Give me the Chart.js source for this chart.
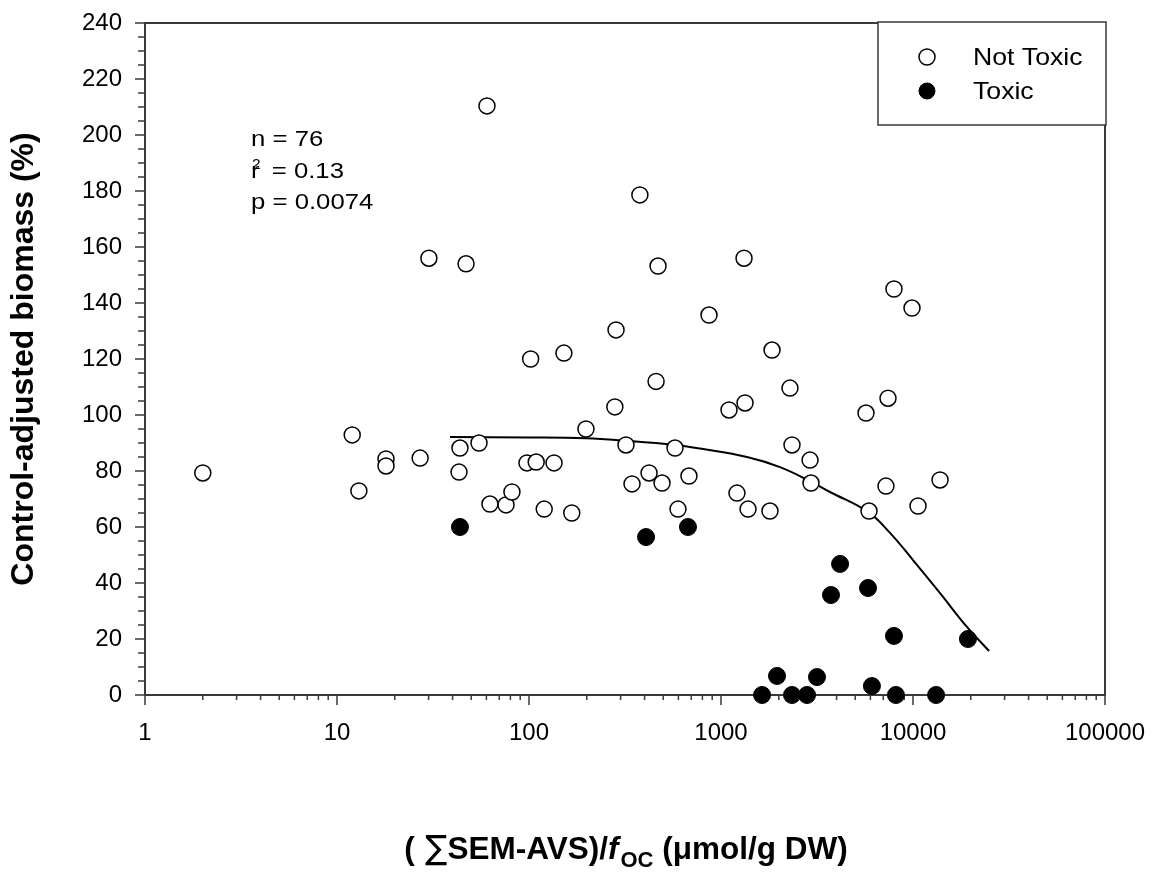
<!DOCTYPE html>
<html>
<head>
<meta charset="utf-8">
<script src="https://cdn.jsdelivr.net/npm/chart.js@4.4.1/dist/chart.umd.min.js"></script>
<style>
  html, body { margin: 0; padding: 0; background: #fff; }
  #wrap { width: 1152px; height: 882px; position: relative; }
</style>
</head>
<body>
<div id="wrap"><canvas id="chart"></canvas></div>
<script>
// values (x = SEM-AVS / foc, y = biomass %)
const notToxicX = [2.0, 12.0, 13.0, 18.0, 18.0, 27.1, 30.1, 43.2, 43.7, 47, 54.9, 60.4, 62.6, 75.9, 81.5,
  97.6, 102, 109, 120, 135, 152, 167, 198, 280, 284, 320, 344, 378, 422, 459, 470, 493, 576, 597, 681,
  866, 1101, 1211, 1318, 1334, 1383, 1799, 1844, 2287, 2343, 2909, 2943, 5690, 5900, 7230, 7410, 7960,
  9880, 10620, 13830];
const notToxicY = [79.3, 92.9, 72.9, 84.3, 81.8, 84.6, 156, 79.6, 88.2, 154, 90, 210.4, 68.2, 67.9, 72.5,
  82.9, 120, 83.2, 66.4, 82.9, 122.1, 65, 95, 102.9, 130.4, 89.3, 75.4, 178.6, 79.3, 112, 153.2, 75.7, 88.2, 66.4, 78.2,
  135.7, 101.8, 72.1, 156, 104.3, 66.4, 65.7, 123.2, 109.6, 89.3, 83.9, 75.7, 100.7, 65.7, 74.6, 106, 145,
  138.2, 67.5, 76.8];

const toxicX = [43.7, 407, 673, 1636, 1958, 2343, 2806, 3162, 3740, 4170, 5830, 6110, 7960, 8150, 13190, 19330];
const toxicY = [60, 56.4, 60, 0, 6.8, 0, 0, 6.4, 35.7, 46.8, 38.2, 3.2, 21.1, 0, 0, 20];

const fitX = [38.8, 100, 198, 320, 576, 779, 1366, 2028, 2943, 3697, 5830, 7590, 10000, 13830, 19100, 24900];
const fitY = [92.1, 92.0, 91.7, 90.8, 89.3, 88.0, 85.0, 81.4, 76.2, 72.5, 65.4, 57.9, 48.2, 36.4, 24.3, 15.7];

const xTickValues = [1, 10, 100, 1000, 10000, 100000];
const statLines = ["n = 76", "r", "p = 0.0074"];

const FONT = '"Liberation Sans", Arial, Helvetica, sans-serif';
const AXIS_COLOR = '#3a3a3a';

function toPoints(xs, ys) {
  return xs.map((x, i) => ({ x: x, y: ys[i] }));
}

function noPad(scale) {
  scale.paddingLeft = 0;
  scale.paddingRight = 0;
  scale.paddingTop = 0;
  scale.paddingBottom = 0;
}

// text a bit wider than Arial, like the figure's font
function wideText(ctx, str, x, y, font, sx) {
  ctx.save();
  ctx.font = font;
  ctx.translate(x, y);
  ctx.scale(sx, 1);
  ctx.fillText(str, 0, 0);
  const w = ctx.measureText(str).width * sx;
  ctx.restore();
  return w;
}

const framePlugin = {
  id: 'frame',
  beforeDatasetsDraw(chart) {
    const ctx = chart.ctx;
    const a = chart.chartArea;
    const xs = chart.scales.x, ys = chart.scales.y;
    ctx.save();
    ctx.strokeStyle = AXIS_COLOR;
    ctx.lineWidth = 1.5;
    ctx.beginPath();
    for (let k = 0; k <= 5; k++) {
      for (let m = 1; m < 10; m++) {
        if (k === 5 && m > 1) break;
        const px = xs.getPixelForValue(m * Math.pow(10, k));
        const len = m === 1 ? 10 : 5;
        ctx.moveTo(px, a.bottom);
        ctx.lineTo(px, a.bottom + len);
      }
    }
    for (let v = 0; v <= 240; v += 5) {
      const py = ys.getPixelForValue(v);
      const len = v % 20 === 0 ? 10 : 7;
      ctx.moveTo(a.left, py);
      ctx.lineTo(a.left - len, py);
    }
    ctx.stroke();
    ctx.lineWidth = 2;
    ctx.strokeRect(a.left, a.top, a.right - a.left, a.bottom - a.top);
    ctx.restore();
  },
  afterDraw(chart) {
    const ctx = chart.ctx;
    const a = chart.chartArea;
    ctx.save();
    ctx.fillStyle = '#000';
    ctx.textBaseline = 'alphabetic';
    ctx.textAlign = 'left';

    // stats text
    const sf = '22px ' + FONT;
    wideText(ctx, statLines[0], 251, 146, sf, 1.17);
    const rw = wideText(ctx, statLines[1], 251, 178, sf, 1.17);
    wideText(ctx, ' = 0.13', 251 + rw + 5, 178, sf, 1.17);
    wideText(ctx, statLines[2], 251, 209, sf, 1.17);
    wideText(ctx, '2', 252, 169, '14px ' + FONT, 1.1);

    // legend
    const lx = 878, ly = 22, lw = 228, lh = 103;
    ctx.fillStyle = '#fff';
    ctx.fillRect(lx, ly, lw, lh);
    ctx.strokeStyle = AXIS_COLOR;
    ctx.lineWidth = 1.5;
    ctx.strokeRect(lx, ly, lw, lh);
    const sets = chart.data.datasets.slice(0, 2);
    const rows = [57, 91];
    sets.forEach((ds, i) => {
      ctx.beginPath();
      ctx.arc(927, rows[i], 8, 0, Math.PI * 2);
      ctx.fillStyle = ds.backgroundColor;
      ctx.fill();
      ctx.lineWidth = ds.borderWidth;
      ctx.strokeStyle = ds.borderColor;
      ctx.stroke();
      ctx.fillStyle = '#000';
      ctx.textBaseline = 'middle';
      wideText(ctx, ds.label, 973, rows[i] + 1, '24px ' + FONT, 1.11);
    });

    // x axis title with sum sign, italic f and subscript OC
    ctx.textBaseline = 'alphabetic';
    const parts = [
      { t: '(', f: 'bold 31.5px ' + FONT, dy: 0 },
      { t: ' \u2211', f: '33px "DejaVu Sans", ' + FONT, dy: 0 },
      { t: 'SEM-AVS)/', f: 'bold 31.5px ' + FONT, dy: 0 },
      { t: 'f', f: 'italic bold 31.5px ' + FONT, dy: 0 },
      { t: 'OC', f: 'bold 22px ' + FONT, dy: 8 },
      { t: ' (\u03bcmol/g DW)', f: 'bold 31.5px ' + FONT, dy: 0 }
    ];
    let total = 0;
    parts.forEach(p => { ctx.font = p.f; p.w = ctx.measureText(p.t).width; total += p.w; });
    let x = (a.left + a.right) / 2 - total / 2;
    parts.forEach(p => {
      ctx.font = p.f;
      ctx.fillText(p.t, x, 859 + p.dy);
      x += p.w + (p.t === 'f' ? 2 : 0);
    });
    ctx.restore();
  }
};

const notToxicSet = {
  label: 'Not Toxic',
  data: toPoints(notToxicX, notToxicY),
  backgroundColor: '#fff',
  borderColor: '#000',
  borderWidth: 1.5,
  pointRadius: 8,
  pointHoverRadius: 8,
  clip: false,
  order: 2
};
const toxicSet = {
  label: 'Toxic',
  data: toPoints(toxicX, toxicY),
  backgroundColor: '#000',
  borderColor: '#000',
  borderWidth: 1,
  pointRadius: 8.5,
  pointHoverRadius: 8.5,
  clip: false,
  order: 1
};
const fitSet = {
  label: 'fit',
  type: 'line',
  data: toPoints(fitX, fitY),
  borderColor: '#000',
  borderWidth: 2,
  pointRadius: 0,
  fill: false,
  tension: 0.4,
  order: 3
};

new Chart(document.getElementById('chart'), {
  type: 'scatter',
  data: { datasets: [notToxicSet, toxicSet, fitSet] },
  options: {
    responsive: true,
    maintainAspectRatio: false,
    animation: false,
    layout: { padding: { top: 23, right: 47, left: 0, bottom: 0 } },
    plugins: {
      legend: { display: false },
      tooltip: { enabled: false }
    },
    scales: {
      x: {
        type: 'logarithmic',
        min: 1,
        max: 100000,
        grid: { display: false, drawTicks: false },
        border: { display: false },
        afterBuildTicks: scale => { scale.ticks = xTickValues.map(v => ({ value: v })); },
        afterFit: scale => { scale.height = 187; noPad(scale); },
        ticks: {
          autoSkip: false,
          maxRotation: 0,
          padding: 24,
          color: '#000',
          font: { family: FONT, size: 24 },
          callback: v => String(v)
        }
      },
      y: {
        min: 0,
        max: 240,
        grid: { display: false, drawTicks: false },
        border: { display: false },
        afterFit: scale => { scale.width = 145; noPad(scale); },
        ticks: {
          stepSize: 20,
          padding: 23,
          color: '#000',
          font: { family: FONT, size: 24 }
        },
        title: {
          display: true,
          text: 'Control-adjusted biomass (%)',
          color: '#000',
          font: { family: FONT, size: 32, weight: 'bold' },
          padding: { top: 5, bottom: 0 }
        }
      }
    }
  },
  plugins: [framePlugin]
});
</script>
</body>
</html>
